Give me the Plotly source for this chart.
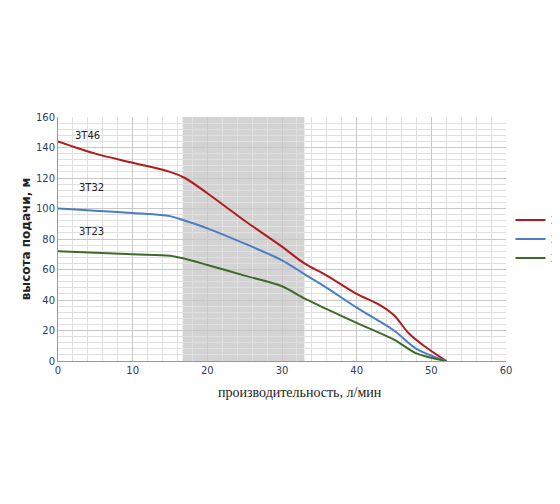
import plotly.graph_objects as go

# flow, l/min
x46 = [0, 5, 10, 15, 17, 20, 25, 30, 33, 36, 40, 43, 45, 47, 49, 52]
y46 = [144, 136, 130, 124, 120, 110, 92, 75, 64, 56, 44, 37, 30, 18, 10, 0]
x32 = [0, 10, 15, 17, 20, 25, 30, 33, 36, 40, 45, 48, 52]
y32 = [100, 97, 95, 92, 87, 77, 66, 57, 48, 35, 20, 8, 0]
x23 = [0, 10, 15, 17, 20, 25, 30, 33, 36, 40, 45, 48, 52]
y23 = [72, 70, 69, 67, 63, 56, 49, 41, 34, 25, 14, 5, 0]

series = [("3T46", x46, y46, "#b31b1b"), ("3T32", x32, y32, "#4a7ec2"), ("3T23", x23, y23, "#3d6b2a")]

fig = go.Figure()
for name, xs, ys, col in series:
    fig.add_trace(go.Scatter(x=xs, y=ys, name=name, mode="lines",
                             line=dict(color=col, width=2, shape="spline", smoothing=0.9)))

# shaded working zone
fig.add_vrect(x0=16.7, x1=33, fillcolor="#d3d3d3", opacity=1, layer="below", line_width=0)

for txt, xx, yy in [("3T46", 4, 148), ("3T32", 4.5, 114), ("3T23", 4.5, 85)]:
    fig.add_annotation(x=xx, y=yy, text=txt, showarrow=False,
                       font=dict(size=10, family="DejaVu Sans", color="#222"))

fig.add_annotation(x=0.728, y=-0.09, xref="paper", yref="paper", yanchor="top",
                   text="производительность, л/мин", showarrow=False,
                   font=dict(size=14, family="Liberation Serif", color="#222"))

fig.update_xaxes(range=[0, 60], dtick=10, showgrid=True, gridcolor="#c8c8c8",
                 minor=dict(dtick=2, showgrid=True, gridcolor="#e0e0e0"),
                 showline=True, linecolor="#999", ticks="", zeroline=False,
                 tickfont=dict(size=10, family="DejaVu Sans"))
fig.update_yaxes(range=[0, 160], dtick=20, showgrid=True, gridcolor="#c8c8c8",
                 minor=dict(dtick=4, showgrid=True, gridcolor="#e0e0e0"),
                 showline=True, linecolor="#999", ticks="", zeroline=False,
                 tickfont=dict(size=10, family="DejaVu Sans"),
                 title=dict(text="<b>высота подачи, м</b>", standoff=2,
                            font=dict(size=12, family="DejaVu Sans", color="#222")))

fig.update_layout(width=560, height=504, plot_bgcolor="white", paper_bgcolor="white",
                  margin=dict(l=50, r=62, t=109, b=151, autoexpand=False),
                  legend=dict(x=1.01, y=0.5, xanchor="left", yanchor="middle",
                              font=dict(size=11, family="DejaVu Sans"), itemwidth=30),
                  showlegend=True)

fig.write_html("out.html")
